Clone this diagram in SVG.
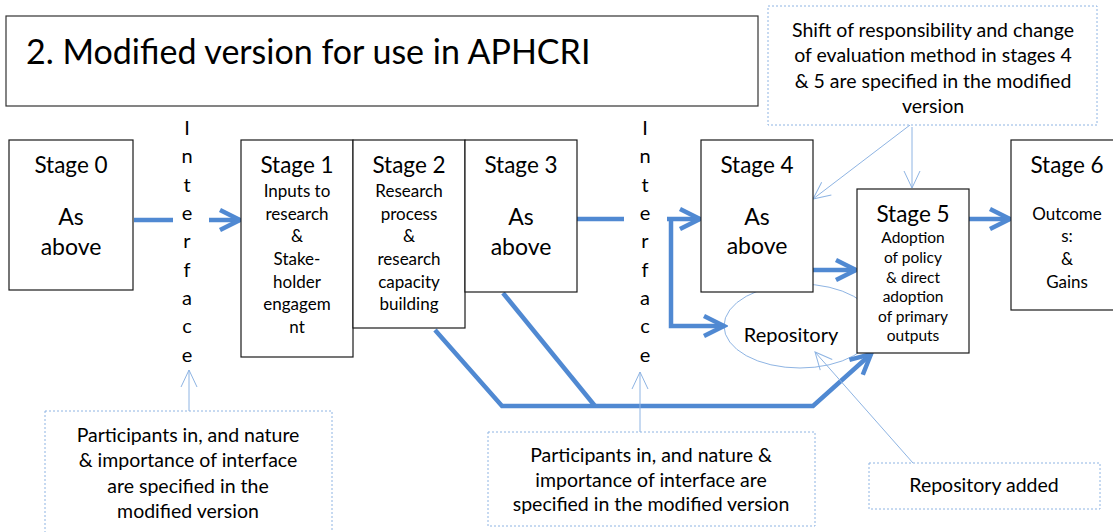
<svg xmlns="http://www.w3.org/2000/svg" width="1113" height="532" viewBox="0 0 1113 532">
<style>
text{font-family:Lato,"Open Sans","Liberation Sans",sans-serif;fill:#000;text-anchor:middle}
.box{fill:#fff;stroke:#1a1a1a;stroke-width:1.2}
.note{fill:#fff;stroke:#8eb4e3;stroke-width:1;stroke-dasharray:2 2}
.thick{fill:none;stroke:#5089d2;stroke-width:4.5;stroke-linejoin:miter}
.thin{fill:none;stroke:#8eb4e3;stroke-width:1}
.st{font-size:22.5px}
.big{font-size:23px}
.b1{font-size:17px}
.b5{font-size:15.5px}
.b6{font-size:17px}
.nt{font-size:19.5px}
.if{font-size:20px}
</style>
<defs>
<marker id="ah" markerUnits="userSpaceOnUse" viewBox="0 0 26 26" markerWidth="26" markerHeight="26" refX="22" refY="13" orient="auto">
<path d="M2,3 L22,13 L2,23" fill="none" stroke="#5089d2" stroke-width="4.5"/>
</marker>
<marker id="at" markerUnits="userSpaceOnUse" viewBox="0 0 20 20" markerWidth="20" markerHeight="20" refX="18" refY="10" orient="auto">
<path d="M1,2 L18,10 L1,18" fill="none" stroke="#8eb4e3" stroke-width="1"/>
</marker>
</defs>

<g id="title">
<rect x="6" y="16" width="752" height="90" fill="#fff" stroke="#333" stroke-width="1.2"/>
<text x="26" y="64" style="font-size:34px;text-anchor:start">2. Modified version for use in APHCRI</text>
</g>

<g id="repository">
<ellipse cx="800" cy="326" rx="76" ry="42" class="thin"/>
<text x="791" y="342" style="font-size:20px">Repository</text>
</g>

<g id="connectors">
<path class="thick" d="M134,220 H173"/>
<path class="thick" d="M209,220 H240" marker-end="url(#ah)"/>
<path class="thick" d="M577,219 H624"/>
<path class="thick" d="M667,219 H700" marker-end="url(#ah)"/>
<path class="thick" d="M671,219 V326 H724" marker-end="url(#ah)"/>
<path class="thick" d="M813,270 H856" marker-end="url(#ah)"/>
<path class="thick" d="M969,219 H1010" marker-end="url(#ah)"/>
<path class="thick" d="M435,330 L502,406 H813 L871,354" marker-end="url(#ah)"/>
<path class="thick" d="M503,293 L595,406"/>
<path class="thin" d="M189,411 V370" marker-end="url(#at)"/>
<path class="thin" d="M640,432 V372" marker-end="url(#at)"/>
<path class="thin" d="M910,125 L813,199" marker-end="url(#at)"/>
<path class="thin" d="M912,127 V188" marker-end="url(#at)"/>
<path class="thin" d="M913,463 L815,352" marker-end="url(#at)"/>
</g>

<g id="stage0">
<rect class="box" x="9" y="140" width="124" height="150"/>
<text class="st" x="71" y="173">Stage 0</text>
<text class="big" x="71" y="225">As</text>
<text class="big" x="71" y="255">above</text>
</g>

<g id="interface-left" class="if">
<text x="187" y="135">I</text><text x="187" y="163">n</text><text x="187" y="192">t</text><text x="187" y="220">e</text><text x="187" y="248">r</text><text x="187" y="277">f</text><text x="187" y="305">a</text><text x="187" y="333">c</text><text x="187" y="362">e</text>
</g>

<g id="stage1">
<rect class="box" x="241" y="140" width="112" height="217"/>
<text class="st" x="297" y="173">Stage 1</text>
<text class="b1" x="297" y="197">Inputs to</text>
<text class="b1" x="297" y="220">research</text>
<text class="b1" x="297" y="242">&amp;</text>
<text class="b1" x="297" y="265">Stake-</text>
<text class="b1" x="297" y="288">holder</text>
<text class="b1" x="297" y="310">engagem</text>
<text class="b1" x="297" y="333">nt</text>
</g>

<g id="stage2">
<rect class="box" x="353" y="140" width="112" height="188"/>
<text class="st" x="409" y="173">Stage 2</text>
<text class="b1" x="409" y="197">Research</text>
<text class="b1" x="409" y="220">process</text>
<text class="b1" x="409" y="242">&amp;</text>
<text class="b1" x="409" y="265">research</text>
<text class="b1" x="409" y="288">capacity</text>
<text class="b1" x="409" y="310">building</text>
</g>

<g id="stage3">
<rect class="box" x="465" y="140" width="112" height="152"/>
<text class="st" x="521" y="173">Stage 3</text>
<text class="big" x="521" y="225">As</text>
<text class="big" x="521" y="255">above</text>
</g>

<g id="interface-right" class="if">
<text x="645" y="135">I</text><text x="645" y="163">n</text><text x="645" y="192">t</text><text x="645" y="220">e</text><text x="645" y="248">r</text><text x="645" y="277">f</text><text x="645" y="305">a</text><text x="645" y="333">c</text><text x="645" y="362">e</text>
</g>

<g id="stage4">
<rect class="box" x="701" y="140" width="112" height="152"/>
<text class="st" x="757" y="173">Stage 4</text>
<text class="big" x="757" y="225">As</text>
<text class="big" x="757" y="254">above</text>
</g>

<g id="stage5">
<rect class="box" x="857" y="189" width="112" height="164"/>
<text class="st" x="913" y="222">Stage 5</text>
<text class="b5" x="913" y="243">Adoption</text>
<text class="b5" x="913" y="263">of policy</text>
<text class="b5" x="913" y="283">&amp; direct</text>
<text class="b5" x="913" y="302">adoption</text>
<text class="b5" x="913" y="322">of primary</text>
<text class="b5" x="913" y="341">outputs</text>
</g>

<g id="stage6">
<rect class="box" x="1011" y="140" width="112" height="170"/>
<text class="st" x="1067" y="173">Stage 6</text>
<text class="b6" x="1067" y="220">Outcome</text>
<text class="b6" x="1067" y="242">s:</text>
<text class="b6" x="1067" y="265">&amp;</text>
<text class="b6" x="1067" y="288">Gains</text>
</g>

<g id="note-top">
<rect class="note" x="768" y="6" width="329" height="119"/>
<text class="nt" x="933" y="37">Shift of responsibility and change</text>
<text class="nt" x="933" y="62">of evaluation method in stages 4</text>
<text class="nt" x="933" y="88">&amp; 5 are specified in the modified</text>
<text class="nt" x="933" y="113">version</text>
</g>

<g id="note-left">
<rect class="note" x="45" y="411" width="287" height="130"/>
<text class="nt" x="188" y="442">Participants in, and nature</text>
<text class="nt" x="188" y="467">&amp; importance of interface</text>
<text class="nt" x="188" y="493">are specified in the</text>
<text class="nt" x="188" y="518">modified version</text>
</g>

<g id="note-middle">
<rect class="note" x="488" y="432" width="327" height="94"/>
<text class="nt" x="651" y="462">Participants in, and nature &amp;</text>
<text class="nt" x="651" y="487">importance of interface are</text>
<text class="nt" x="651" y="511">specified in the modified version</text>
</g>

<g id="note-repository">
<rect class="note" x="869" y="463" width="231" height="46"/>
<text class="nt" x="984" y="492">Repository added</text>
</g>
</svg>
